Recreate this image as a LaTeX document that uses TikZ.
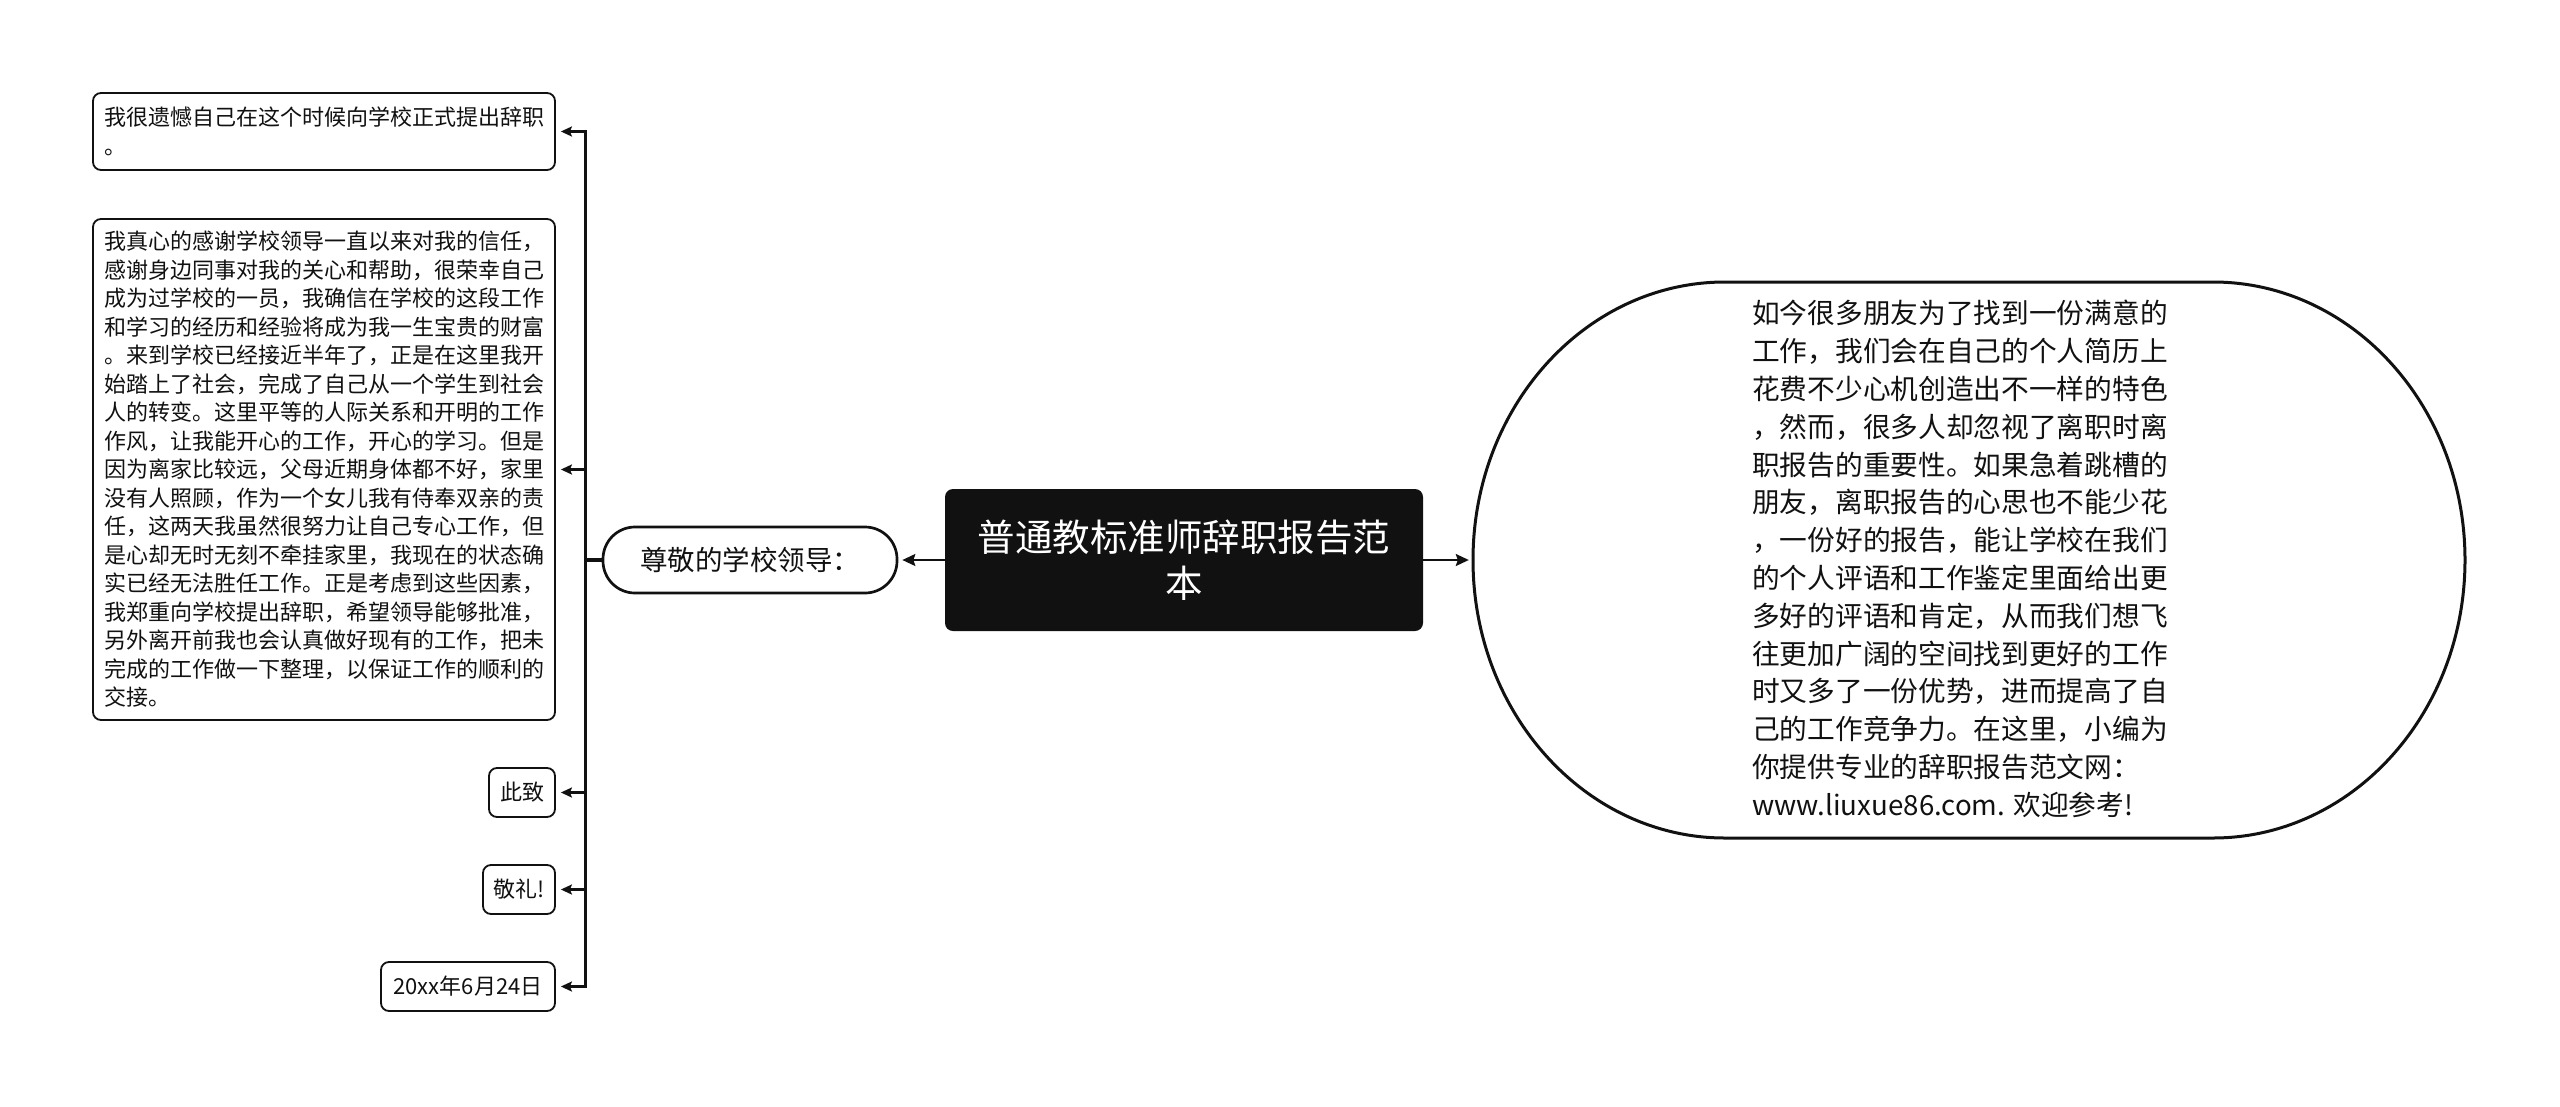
\documentclass[tikz,border=0pt]{standalone}
\usepackage{fontspec}
\setmainfont{Noto Sans CJK SC}
\usetikzlibrary{arrows.meta}
\definecolor{ink}{HTML}{111111}
\begin{document}
\begin{tikzpicture}[x=1pt,y=-1pt,
  box/.style={draw=ink, line width=1.8pt, rounded corners=8pt, fill=white, text=ink,
    align=left, inner sep=0pt, font=\fontsize{22pt}{28.5pt}\selectfont},
  rootbox/.style={fill=ink, rounded corners=8pt, text=white, align=center, inner sep=0pt,
    minimum width=478pt, minimum height=142pt, font=\fontsize{37.5pt}{46pt}\selectfont},
  pill/.style={draw=ink, line width=2.7pt, rounded corners=32pt, fill=white, text=ink,
    inner sep=0pt, minimum width=294pt, minimum height=66pt, font=\fontsize{27.5pt}{33pt}\selectfont},
  bodytext/.style={text=ink, align=left, inner sep=0pt, font=\fontsize{27.7pt}{37.8pt}\selectfont},
  thinarrow/.style={draw=ink, line width=2pt, shorten >=4pt, -{Stealth[length=13pt,width=12pt,inset=2pt]}},
  treearrow/.style={draw=ink, line width=3.3pt, shorten >=5pt, -{Stealth[length=11pt,width=10pt,inset=2pt]}},
]
\useasboundingbox (0,0) rectangle (2560,1106);
\fill[white] (0,0) rectangle (2560,1106);

% root
\node[rootbox] (root) at (1184,560) {普通教标准师辞职报告范\\本};

% first-level left
\node[pill] (zj) at (750,560) {尊敬的学校领导：};

% right body
\node[minimum width=992pt, minimum height=556pt, inner sep=0pt] (ell) at (1969,560) {};
\draw[ink, line width=3pt] (1725,282) arc[start angle=270, end angle=90, x radius=252, y radius=278]
  -- (2213,838) arc[start angle=90, end angle=-90, x radius=252, y radius=278] -- cycle;
\node[bodytext] (elltext) at (1960,559) {如今很多朋友为了找到一份满意的\\
工作，我们会在自己的个人简历上\\
花费不少心机创造出不一样的特色\\
，然而，很多人却忽视了离职时离\\
职报告的重要性。如果急着跳槽的\\
朋友，离职报告的心思也不能少花\\
，一份好的报告，能让学校在我们\\
的个人评语和工作鉴定里面给出更\\
多好的评语和肯定，从而我们想飞\\
往更加广阔的空间找到更好的工作\\
时又多了一份优势，进而提高了自\\
己的工作竞争力。在这里，小编为\\
你提供专业的辞职报告范文网：\\
www.liuxue86.com. 欢迎参考!};

% left boxes
\node[box, minimum width=462pt, minimum height=77pt] (top) at (324,131.5)
  {我很遗憾自己在这个时候向学校正式提出辞职\\。};
\node[box, minimum width=462pt, minimum height=501pt] (big) at (324,469.5)
  {我真心的感谢学校领导一直以来对我的信任，\\
感谢身边同事对我的关心和帮助，很荣幸自己\\
成为过学校的一员，我确信在学校的这段工作\\
和学习的经历和经验将成为我一生宝贵的财富\\
。来到学校已经接近半年了，正是在这里我开\\
始踏上了社会，完成了自己从一个学生到社会\\
人的转变。这里平等的人际关系和开明的工作\\
作风，让我能开心的工作，开心的学习。但是\\
因为离家比较远，父母近期身体都不好，家里\\
没有人照顾，作为一个女儿我有侍奉双亲的责\\
任，这两天我虽然很努力让自己专心工作，但\\
是心却无时无刻不牵挂家里，我现在的状态确\\
实已经无法胜任工作。正是考虑到这些因素，\\
我郑重向学校提出辞职，希望领导能够批准，\\
另外离开前我也会认真做好现有的工作，把未\\
完成的工作做一下整理，以保证工作的顺利的\\
交接。};
\node[box, minimum width=66pt, minimum height=49pt] (cz) at (522,792.5) {此致};
\node[box, minimum width=72pt, minimum height=49pt] (jl) at (519,889.5) {敬礼!};
\node[box, minimum width=174pt, minimum height=49pt] (date) at (468,986.5) {20xx年6月24日};

% connectors
\draw[thinarrow] (root.west) -- (zj.east);
\draw[thinarrow] (root.east) -- (ell.west);
\foreach \t in {top,big,cz,jl,date}
  \draw[treearrow] (zj.west) -- ++(-16,0) |- (\t.east);
\end{tikzpicture}
\end{document}
